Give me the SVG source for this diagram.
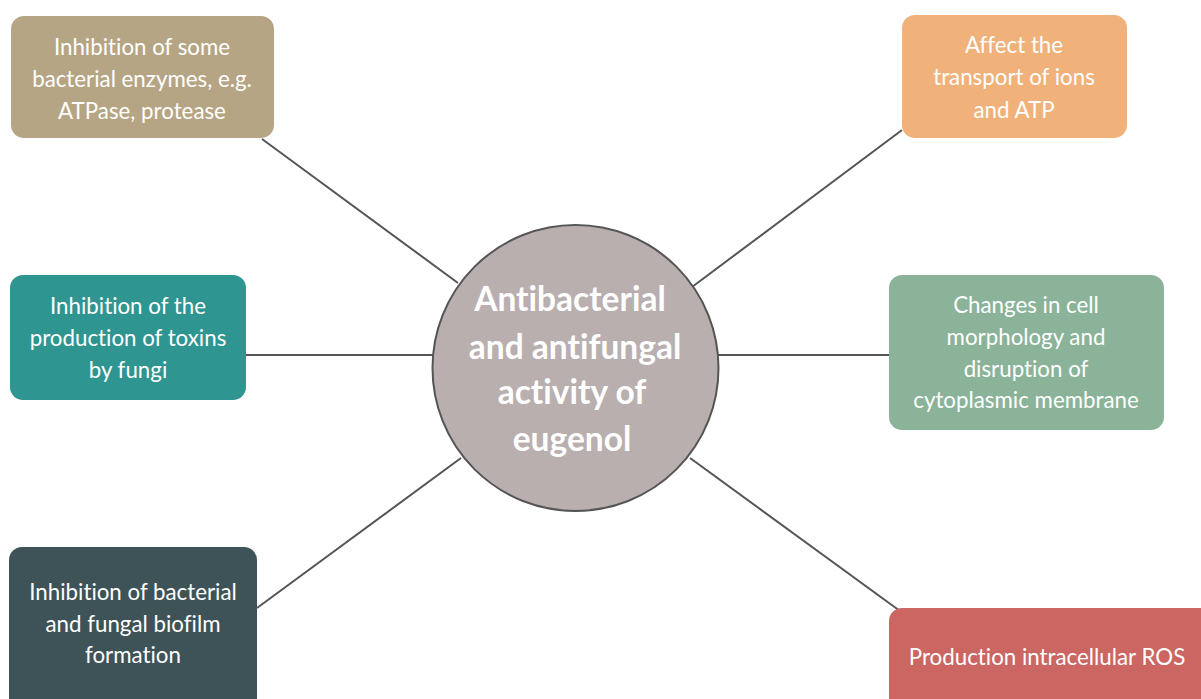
<svg xmlns="http://www.w3.org/2000/svg" width="1201" height="699" viewBox="0 0 1201 699">
<style>
text{font-variant-ligatures:none;font-feature-settings:"liga" 0}
.box text{font-family:Lato,"Liberation Sans",sans-serif;font-size:22.3px;fill:#ffffff;text-anchor:middle}
.ctr text{font-family:Lato,"Liberation Sans",sans-serif;font-size:33.5px;font-weight:bold;fill:#ffffff;text-anchor:middle}
.conn line{stroke:#555555;stroke-width:2}
</style>
<rect width="1201" height="699" fill="#ffffff"/>
<g id="connectors" class="conn">
<line x1="262" y1="139" x2="458" y2="283"/>
<line x1="902" y1="130" x2="692" y2="287"/>
<line x1="246" y1="355" x2="433" y2="355"/>
<line x1="718" y1="355" x2="889" y2="355"/>
<line x1="257" y1="608" x2="461" y2="458"/>
<line x1="690" y1="458" x2="900" y2="611"/>
</g>
<g id="center" class="ctr">
<circle cx="575.5" cy="368" r="143" fill="#B9AFAF" stroke="#555555" stroke-width="2"/>
<text x="570" y="311">Antibacterial</text>
<text x="575" y="359">and antifungal</text>
<text x="572" y="404">activity of</text>
<text x="572" y="451">eugenol</text>
</g>
<g id="n1" class="box">
<rect x="11" y="16" width="263" height="122" rx="13" fill="#B5A584"/>
<text x="142" y="55">Inhibition of some</text>
<text x="142" y="87">bacterial enzymes, e.g.</text>
<text x="142" y="119">ATPase, protease</text>
</g>
<g id="n2" class="box">
<rect x="902" y="15" width="225" height="123" rx="13" fill="#F0B27A"/>
<text x="1014" y="53">Affect the</text>
<text x="1014" y="85">transport of ions</text>
<text x="1014" y="118">and ATP</text>
</g>
<g id="n3" class="box">
<rect x="10" y="275" width="236" height="125" rx="13" fill="#2F9591"/>
<text x="128" y="314">Inhibition of the</text>
<text x="128" y="346">production of toxins</text>
<text x="128" y="378">by fungi</text>
</g>
<g id="n4" class="box">
<rect x="889" y="275" width="275" height="155" rx="13" fill="#8AB399"/>
<text x="1026" y="313">Changes in cell</text>
<text x="1026" y="345">morphology and</text>
<text x="1026" y="377">disruption of</text>
<text x="1026" y="408">cytoplasmic membrane</text>
</g>
<g id="n5" class="box">
<rect x="9" y="547" width="248" height="170" rx="13" fill="#3E5357"/>
<text x="133" y="600">Inhibition of bacterial</text>
<text x="133" y="632">and fungal biofilm</text>
<text x="133" y="663">formation</text>
</g>
<g id="n6" class="box">
<rect x="889" y="608" width="330" height="110" rx="13" fill="#CC6662"/>
<text x="1047" y="665">Production intracellular ROS</text>
</g>
</svg>
